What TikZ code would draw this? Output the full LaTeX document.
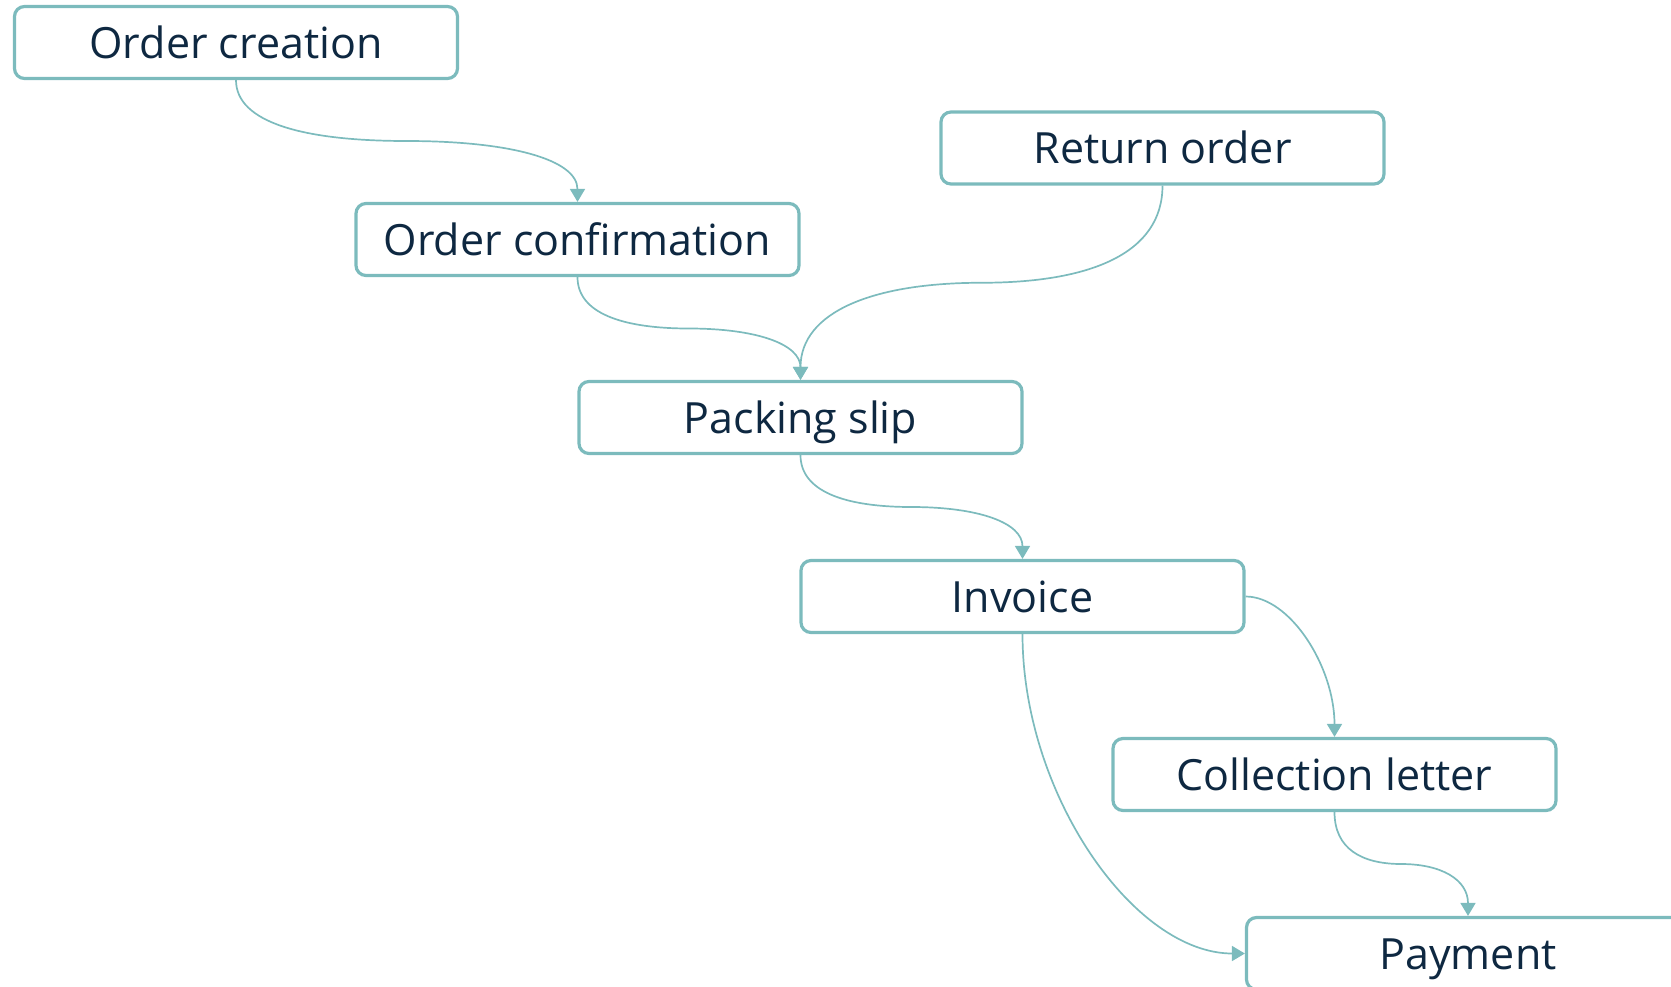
\documentclass[tikz,border=0pt]{standalone}
\usepackage{fontspec}
\setmainfont{Open Sans}
\usetikzlibrary{positioning, calc, arrows.meta}
\definecolor{tealline}{HTML}{7CBBBD}
\definecolor{navytext}{HTML}{0E2841}

\begin{document}
\begin{tikzpicture}[x=0.5pt, y=-0.5pt,
doc/.style= {rectangle, rounded corners=5pt, draw=tealline, line width=1.6pt, minimum width=221.5pt, minimum height=36pt, inner sep=0pt, text height=20pt, text depth=4.5pt, text=navytext, font=\fontsize{21.5}{26}\selectfont},
link/.style= {draw=tealline, line width=0.85pt, -{Triangle[length=6.5pt, width=7.5pt]}},
sbend/.style= {to path={let \p1=(\tikztostart), \p2=(\tikztotarget) in
  .. controls (\x1,{\y1+0.35*(\y2-\y1)}) and ({\x1+0.2*(\x2-\x1)},{(\y1+\y2)/2}) .. ({(\x1+\x2)/2},{(\y1+\y2)/2})
  .. controls ({\x1+0.8*(\x2-\x1)},{(\y1+\y2)/2}) and (\x2,{\y1+0.65*(\y2-\y1)}) .. (\tikztotarget)}},
hvbend/.style= {to path={let \p1=(\tikztostart), \p2=(\tikztotarget) in
  .. controls ({(\x1+\x2)/2},\y1) and (\x2,{(\y1+\y2)/2}) .. (\tikztotarget)}},
vhbend/.style= {to path={let \p1=(\tikztostart), \p2=(\tikztotarget) in
  .. controls (\x1,{(\y1+\y2)/2}) and ({(\x1+\x2)/2},\y2) .. (\tikztotarget)}} ]
\useasboundingbox (0,0) rectangle (1671,986);
\clip (0,0) rectangle (1671,986);
\node (create) [doc] at (236,42.5) {Order creation};
\node (confirm) [doc] at (577.5,239.5) {Order confirmation};
\node (return) [doc] at (1162.5,148) {Return order};
\node (packing) [doc] at (800.5,417.5) {Packing slip};
\node (invoice) [doc] at (1022.5,596.5) {Invoice};
\node (collect) [doc] at (1334.5,774.5) {Collection letter};
\node (payment) [doc] at (1468,953.5) {Payment};
\path (create.south) edge[link, sbend] (confirm.north);
\path (confirm.south) edge[link, sbend] (packing.north);
\path (return.south) edge[link, sbend] (packing.north);
\path (packing.south) edge[link, sbend] (invoice.north);
\path (invoice.east) edge[link, hvbend] (collect.north);
\path (invoice.south) edge[link, vhbend] (payment.west);
\path (collect.south) edge[link, sbend] (payment.north);
\end{tikzpicture}
\end{document}
